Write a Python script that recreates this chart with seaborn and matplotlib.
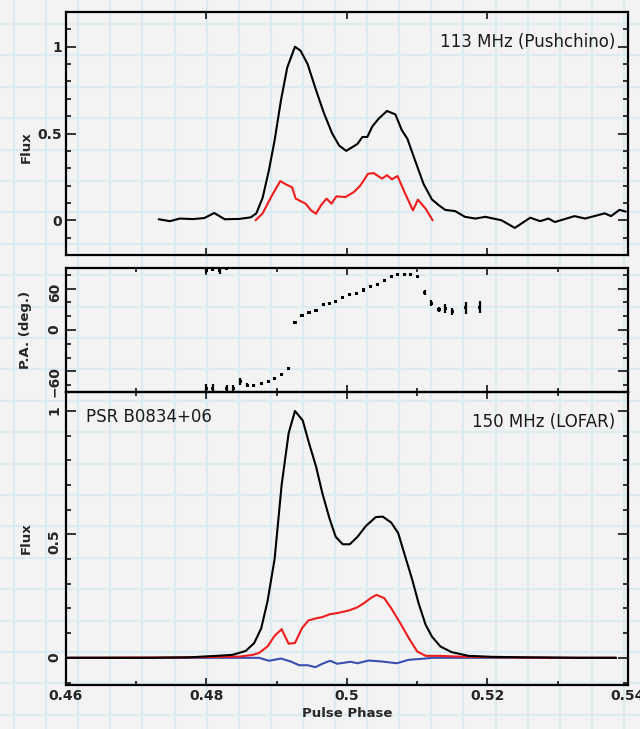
import numpy as np
import pandas as pd
import matplotlib
matplotlib.use("Agg")
import matplotlib.pyplot as plt
from matplotlib.ticker import MultipleLocator, FixedLocator
import seaborn as sns

# ---------------- data ----------------
# 113 MHz (Pushchino) total intensity
top_I_phase = [0.4732, 0.4748, 0.4762, 0.4781, 0.4797, 0.4811, 0.4826, 0.4847, 0.4863,
               0.4871, 0.4880, 0.4889, 0.4897, 0.4906, 0.4915, 0.4926, 0.4934, 0.4944,
               0.4956, 0.4967, 0.4979, 0.4989, 0.4999, 0.5015, 0.5022, 0.5029, 0.5036,
               0.5045, 0.5057, 0.5069, 0.5078, 0.5086, 0.5097, 0.5109, 0.5121, 0.5131,
               0.5140, 0.5154, 0.5168, 0.5183, 0.5197, 0.5220, 0.5239, 0.5261, 0.5275,
               0.5287, 0.5296, 0.5324, 0.5339, 0.5367, 0.5376, 0.5388, 0.5397]
top_I_flux = [0.006, -0.005, 0.010, 0.007, 0.013, 0.042, 0.006, 0.008, 0.017,
              0.04, 0.13, 0.29, 0.46, 0.69, 0.88, 1.0, 0.977, 0.90,
              0.75, 0.62, 0.50, 0.43, 0.40, 0.44, 0.48, 0.48, 0.54,
              0.585, 0.63, 0.61, 0.52, 0.47, 0.345, 0.21, 0.12, 0.086,
              0.06, 0.053, 0.02, 0.01, 0.02, 0.0, -0.044, 0.015, -0.005,
              0.01, -0.01, 0.024, 0.01, 0.04, 0.024, 0.06, 0.05]
# 113 MHz linear polarisation
top_L_phase = [0.4870, 0.4880, 0.4892, 0.4905, 0.4913, 0.4922, 0.4927, 0.4941, 0.4949,
               0.4956, 0.4963, 0.4971, 0.4978, 0.4985, 0.4998, 0.5010, 0.5019, 0.5030,
               0.5038, 0.5050, 0.5057, 0.5064, 0.5072, 0.5083, 0.5094, 0.5101, 0.5112,
               0.5122]
top_L_flux = [0.0, 0.04, 0.134, 0.226, 0.207, 0.19, 0.125, 0.096, 0.057,
              0.038, 0.086, 0.125, 0.096, 0.138, 0.134, 0.163, 0.20, 0.268,
              0.272, 0.24, 0.26, 0.236, 0.255, 0.153, 0.057, 0.119, 0.067,
              0.0]

# position angle
pa_phase = [0.4800, 0.4809, 0.4829, 0.4838, 0.4848, 0.4858, 0.4867, 0.4878, 0.4888,
            0.4897, 0.4907, 0.4917,
            0.4800, 0.4809, 0.4819, 0.4829,
            0.4926, 0.4936, 0.4946, 0.4956, 0.4966, 0.4975, 0.4984, 0.4994, 0.5004,
            0.5013, 0.5024, 0.5034, 0.5043, 0.5053, 0.5063, 0.5072, 0.5082, 0.5091,
            0.5101, 0.5111, 0.5120, 0.5131, 0.5140, 0.5150, 0.5169, 0.5189]
pa_deg = [-85, -85, -85, -85, -75, -80, -81, -77.6, -75,
          -70.5, -64, -56,
          87, 88, 86, 89,
          11.4, 21.4, 24.8, 28.6, 36.7, 39, 41.4, 47, 51,
          53.3, 58, 62.8, 66, 71.4, 77, 81, 81, 80.5,
          78, 54.7, 39, 29.5, 31, 27, 32, 33]
pa_err = [6, 6, 5, 5, 5, 3, 2, 1.5, 1,
          1, 1, 1,
          5, 3, 5, 1,
          1, 1, 1, 1, 1, 1, 1, 1, 1,
          1, 1, 1, 1, 1, 1, 1, 1, 1,
          1, 4, 4, 4, 6, 5, 9, 9]

# 150 MHz (LOFAR)
bot_I_phase = [0.4600, 0.4648, 0.4719, 0.4776, 0.4814, 0.4837, 0.4856, 0.4868, 0.4878,
               0.4887, 0.4897, 0.4907, 0.4917, 0.4926, 0.4937, 0.4946, 0.4956, 0.4965,
               0.4975, 0.4984, 0.4994, 0.5004, 0.5015, 0.5027, 0.5041, 0.5051, 0.5063,
               0.5073, 0.5083, 0.5093, 0.5102, 0.5112, 0.5121, 0.5133, 0.5149, 0.5173,
               0.5206, 0.5258, 0.5329, 0.5383]
bot_I_flux = [0.0, 0.0, 0.0, 0.002, 0.008, 0.012, 0.028, 0.06, 0.12,
              0.23, 0.40, 0.70, 0.91, 1.0, 0.962, 0.87, 0.775, 0.667,
              0.566, 0.49, 0.46, 0.46, 0.49, 0.534, 0.57, 0.572, 0.548,
              0.505, 0.41, 0.316, 0.221, 0.134, 0.086, 0.046, 0.023, 0.008,
              0.004, 0.002, 0.0, 0.0]
bot_L_phase = [0.4600, 0.4700, 0.4780, 0.4847, 0.4866, 0.4875, 0.4887, 0.4897, 0.4907,
               0.4917, 0.4926, 0.4936, 0.4945, 0.4956, 0.4965, 0.4976, 0.4986, 0.5003,
               0.5015, 0.5024, 0.5034, 0.5042, 0.5053, 0.5063, 0.5076, 0.5088, 0.5100,
               0.5112, 0.5131, 0.5159, 0.5216, 0.5301, 0.5383]
bot_L_flux = [0.0, 0.001, 0.002, 0.005, 0.012, 0.02, 0.046, 0.089, 0.116,
              0.057, 0.06, 0.12, 0.151, 0.16, 0.165, 0.177, 0.181, 0.192,
              0.205, 0.221, 0.242, 0.255, 0.242, 0.201, 0.14, 0.08, 0.026,
              0.008, 0.008, 0.005, 0.002, 0.0, 0.0]
bot_V_phase = [0.4600, 0.4780, 0.4875, 0.4889, 0.4906, 0.4920, 0.4932, 0.4944, 0.4955,
               0.4965, 0.4976, 0.4986, 0.4996, 0.5005, 0.5015, 0.5031, 0.5050, 0.5071,
               0.5088, 0.5107, 0.5121, 0.5383]
bot_V_flux = [0.0, 0.0, 0.0, -0.012, -0.003, -0.015, -0.03, -0.03, -0.038,
              -0.024, -0.012, -0.024, -0.02, -0.016, -0.022, -0.011, -0.015, -0.022,
              -0.008, -0.004, 0.0, 0.0]

x_ticks = [0.46, 0.48, 0.50, 0.52, 0.54]
x_ticklabels = ["0.46", "0.48", "0.5", "0.52", "0.54"]
flux_ticks = [0, 0.5, 1]
flux_ticklabels = ["0", "0.5", "1"]
pa_ticks = [-60, 0, 60]
pa_ticklabels = ["\u221260", "0", "60"]

# ---------------- style ----------------
sns.set_style("ticks")
plt.rcParams['font.family'] = ['DejaVu Sans']
BG = '#f3f3f3'
fig = plt.figure(figsize=(6.4, 7.29), dpi=100, facecolor=BG)

# graph-paper background
bg = fig.add_axes([0, 0, 1, 1], zorder=-10)
bg.set_facecolor(BG)
bg.set_xlim(0, 640)
bg.set_ylim(729, 0)
bg.xaxis.set_major_locator(FixedLocator(np.arange(14, 640, 32.1)))
bg.yaxis.set_major_locator(FixedLocator(np.arange(24, 729, 31.4)))
bg.grid(True, color='#dcebf2', lw=1.6)
bg.tick_params(length=0, labelbottom=False, labelleft=False)
for s in bg.spines.values():
    s.set_visible(False)

L = 0.1031
W = 0.878
ax1 = fig.add_axes([L, 0.6502, W, 0.3333])
ax2 = fig.add_axes([L, 0.4623, W, 0.1701])
ax3 = fig.add_axes([L, 0.0604, W, 0.4019])

for ax in (ax1, ax2, ax3):
    ax.patch.set_alpha(0)
    ax.set_xlim(0.46, 0.54)
    for s in ax.spines.values():
        s.set_linewidth(1.6)
        s.set_color('black')
    ax.tick_params(which='both', direction='in', top=True, right=True,
                   width=1.1, color='black')
    ax.tick_params(which='major', axis='y', length=7)
    ax.tick_params(which='minor', axis='y', length=3.6)
    ax.tick_params(which='major', axis='x', length=5.2)
    ax.tick_params(which='minor', axis='x', length=3)
    ax.set_xticks(x_ticks)

LW = 1.5
# ---- top panel ----
d1 = pd.DataFrame({'phase': top_I_phase, 'flux': top_I_flux})
d1l = pd.DataFrame({'phase': top_L_phase, 'flux': top_L_flux})
sns.lineplot(data=d1, x='phase', y='flux', ax=ax1, color='black', lw=LW,
             sort=False, estimator=None)
sns.lineplot(data=d1l, x='phase', y='flux', ax=ax1, color='#ee1c1c', lw=LW,
             sort=False, estimator=None)
ax1.set_ylim(-0.2, 1.2)
ax1.set_yticks(flux_ticks)
ax1.set_yticklabels(flux_ticklabels)
ax1.yaxis.set_minor_locator(MultipleLocator(0.1))
ax1.tick_params(labelbottom=False)
ax1.set_xlabel("")
ax1.set_ylabel("Flux", fontsize=9.5, fontweight='bold')
ax1.yaxis.set_label_coords(-0.060, 0.444)
ax1.text(0.977, 0.877, "113 MHz (Pushchino)", transform=ax1.transAxes,
         ha='right', va='center', fontsize=12, color='#1a1a1a')

# ---- PA panel ----
dpa = pd.DataFrame({'phase': pa_phase, 'pa': pa_deg, 'err': pa_err})
ax2.vlines(dpa['phase'], dpa['pa'] - dpa['err'], dpa['pa'] + dpa['err'],
           color='black', lw=1.6)
sns.scatterplot(data=dpa, x='phase', y='pa', ax=ax2, color='black', s=5,
                marker='s', edgecolor='none')
ax2.set_ylim(-90, 90)
ax2.set_yticks(pa_ticks)
ax2.set_yticklabels(pa_ticklabels)
ax2.yaxis.set_minor_locator(MultipleLocator(20))
ax2.xaxis.set_minor_locator(MultipleLocator(0.01))
ax2.tick_params(labelbottom=False)
ax2.tick_params(axis='y', labelrotation=90)
ax2.set_xlabel("")
ax2.set_ylabel("P.A. (deg.)", fontsize=9.5, fontweight='bold')
ax2.yaxis.set_label_coords(-0.060, 0.5)

# ---- bottom panel ----
d3 = pd.DataFrame({'phase': bot_I_phase, 'flux': bot_I_flux})
d3l = pd.DataFrame({'phase': bot_L_phase, 'flux': bot_L_flux})
d3v = pd.DataFrame({'phase': bot_V_phase, 'flux': bot_V_flux})
sns.lineplot(data=d3v, x='phase', y='flux', ax=ax3, color='#3a4fb0', lw=LW,
             sort=False, estimator=None)
sns.lineplot(data=d3l, x='phase', y='flux', ax=ax3, color='#ee1c1c', lw=LW,
             sort=False, estimator=None)
sns.lineplot(data=d3, x='phase', y='flux', ax=ax3, color='black', lw=LW,
             sort=False, estimator=None)
ax3.set_ylim(-0.11, 1.077)
ax3.set_yticks(flux_ticks)
ax3.set_yticklabels(flux_ticklabels)
ax3.yaxis.set_minor_locator(MultipleLocator(0.1))
ax3.xaxis.set_minor_locator(MultipleLocator(0.01))
ax3.set_xticklabels(x_ticklabels)
ax3.tick_params(axis='y', labelrotation=90)
ax3.set_ylabel("Flux", fontsize=9.5, fontweight='bold')
ax3.yaxis.set_label_coords(-0.060, 0.502)
ax3.set_xlabel("Pulse Phase", fontsize=9.5, fontweight='bold', labelpad=3)
ax3.text(0.0356, 0.915, "PSR B0834+06", transform=ax3.transAxes,
         ha='left', va='center', fontsize=12, color='#1a1a1a')
ax3.text(0.977, 0.898, "150 MHz (LOFAR)", transform=ax3.transAxes,
         ha='right', va='center', fontsize=12, color='#1a1a1a')

for ax in (ax1, ax2, ax3):
    for lab in ax.get_yticklabels() + ax.get_xticklabels():
        lab.set_fontweight('bold')
        lab.set_fontsize(10)
    ax.tick_params(axis='both', pad=3)

fig.savefig("out.png", dpi=100, facecolor=BG)
